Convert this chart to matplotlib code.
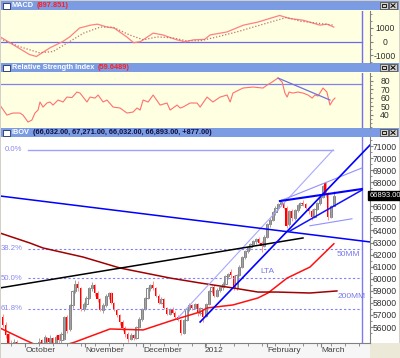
import matplotlib
matplotlib.use("Agg")
import matplotlib.pyplot as plt
from matplotlib.patches import Rectangle
import numpy as np

W, H = 400, 358
plt.rcParams['font.family'] = ['Liberation Sans', 'DejaVu Sans']

# daily IBOV candles, thousands of points (Sep 2011 - Mar 8 2012)
opens = [56.8, 56.2, 55.4, 54.6, 54.1, 54.8, 54.0, 53.0, 52.4, 51.0,
         50.0, 51.2, 52.2, 53.8, 54.9, 54.5, 55.1, 54.8, 55.1, 54.4,
         55.3, 54.9, 55.0, 56.8, 55.8, 57.8, 59.0, 59.6, 59.2, 57.5,
         57.9, 58.4, 59.2, 59.5, 58.8, 58.3, 57.4, 57.8, 58.6, 58.8,
         58.0, 57.4, 57.0, 56.4, 55.9, 55.4, 55.0, 55.3, 55.1, 56.0,
         56.7, 57.5, 58.4, 59.2, 59.5, 59.2, 58.6, 58.0, 58.3, 57.6,
         57.1, 57.5, 57.2, 56.8, 56.6, 55.5, 56.6, 57.5, 57.8, 57.6,
         57.9, 57.2, 57.4, 56.9, 57.9, 59.0, 59.3, 58.6, 59.1, 59.3,
         59.6, 60.2, 60.6, 60.2, 59.2, 60.3, 61.0, 61.8, 62.3, 62.6,
         62.9, 63.1, 63.3, 63.0, 62.7, 63.5, 64.5, 64.9, 65.5, 65.9,
         66.2, 66.3, 65.9, 64.5, 65.6, 65.0, 65.7, 66.1, 66.3, 66.2,
         65.9, 65.6, 65.1, 65.8, 66.3, 66.8, 67.9, 67.1, 65.1, 66.032]
highs = [57.1, 56.4, 55.6, 54.9, 55.0, 54.9, 54.2, 53.3, 52.6, 51.3,
         51.5, 52.5, 53.9, 55.1, 55.0, 55.3, 55.2, 55.3, 55.2, 55.3,
         55.4, 55.6, 56.9, 57.0, 57.9, 59.1, 59.9, 59.8, 59.3, 58.1,
         58.6, 59.3, 59.7, 59.6, 59.0, 58.4, 58.0, 58.7, 58.9, 58.9,
         58.1, 57.5, 57.1, 56.6, 56.1, 55.6, 55.5, 55.4, 56.1, 56.8,
         57.6, 58.5, 59.3, 59.6, 59.8, 59.3, 58.7, 58.5, 58.4, 57.7,
         57.6, 57.7, 57.3, 57.0, 56.7, 56.7, 57.6, 58.0, 57.9, 58.0,
         58.0, 57.7, 57.5, 58.0, 59.1, 59.4, 59.5, 59.2, 59.4, 59.7,
         60.3, 60.5, 60.8, 60.3, 60.4, 61.1, 61.9, 62.4, 62.7, 63.0,
         63.2, 63.4, 63.5, 63.1, 63.6, 64.6, 65.0, 65.6, 66.0, 66.3,
         66.6, 66.4, 66.0, 65.7, 65.8, 65.8, 66.2, 66.4, 66.5, 66.3,
         66.0, 65.8, 65.9, 66.4, 66.9, 67.8, 68.0, 67.2, 66.1, 67.271]
lows = [56.0, 55.1, 54.4, 53.8, 53.9, 53.9, 52.8, 52.0, 50.8, 49.8,
        49.6, 51.0, 52.0, 53.6, 54.3, 54.3, 54.5, 54.6, 54.2, 54.2,
        54.7, 54.7, 54.9, 55.5, 55.7, 57.6, 58.8, 59.0, 57.3, 57.3,
        57.7, 58.3, 59.0, 58.6, 58.1, 57.3, 57.2, 57.7, 58.3, 57.9,
        57.3, 56.8, 56.2, 55.7, 55.2, 54.8, 54.9, 54.9, 55.0, 55.9,
        56.5, 57.4, 58.3, 59.0, 59.1, 58.5, 57.9, 57.9, 57.5, 57.0,
        57.0, 57.1, 56.7, 56.5, 55.3, 55.4, 56.5, 57.3, 57.4, 57.5,
        56.9, 57.0, 56.4, 56.8, 57.8, 58.8, 58.5, 58.5, 58.9, 59.1,
        59.5, 60.0, 60.1, 59.1, 59.1, 60.2, 60.9, 61.6, 62.1, 62.4,
        62.7, 62.9, 62.9, 62.2, 62.6, 63.4, 64.3, 64.8, 65.3, 65.7,
        66.0, 65.8, 64.2, 64.4, 64.8, 64.9, 65.5, 65.9, 66.0, 65.8,
        65.4, 64.9, 65.0, 65.7, 66.1, 66.7, 66.8, 64.9, 65.0, 66.032]
closes = [56.2, 55.3, 54.6, 54.0, 54.8, 54.1, 53.0, 52.3, 51.0, 50.2,
          51.2, 52.3, 53.8, 54.8, 54.6, 55.2, 54.8, 55.1, 54.5, 55.2,
          54.9, 55.4, 56.8, 55.7, 57.8, 59.0, 59.6, 59.2, 57.5, 57.9,
          58.4, 59.2, 59.5, 58.8, 58.3, 57.4, 57.8, 58.6, 58.8, 58.0,
          57.4, 57.0, 56.4, 55.9, 55.4, 55.0, 55.3, 55.1, 56.0, 56.7,
          57.5, 58.4, 59.2, 59.5, 59.2, 58.6, 58.0, 58.3, 57.6, 57.1,
          57.5, 57.2, 56.8, 56.6, 55.5, 56.6, 57.5, 57.8, 57.6, 57.9,
          57.2, 57.6, 56.8, 57.9, 59.0, 59.3, 58.6, 59.1, 59.3, 59.6,
          60.2, 60.4, 60.3, 59.2, 60.3, 61.0, 61.8, 62.3, 62.6, 62.9,
          63.1, 63.3, 63.0, 62.7, 63.5, 64.5, 64.9, 65.5, 65.9, 66.2,
          66.4, 65.9, 64.4, 65.6, 65.0, 65.7, 66.1, 66.3, 66.2, 65.9,
          65.6, 65.1, 65.8, 66.3, 66.8, 67.7, 66.9, 65.1, 66.0, 66.893]

month_pos = [8, 29.5, 50.5, 72.5, 95, 114.5]
month_labels = ["October", "November", "December", "2012", "February", "March"]

# moving averages (day index, points)
ma50_days = [-1.1, 7.9, 13, 18, 24.8, 25.9, 38.5, 50.4, 61.2, 70.9, 73.4, 82.7, 91.7, 95.3, 102.2, 110.4, 119]
ma50_vals = [55920, 54930, 54400, 54250, 54680, 54760, 55840, 55760, 56580, 57250, 57580, 57830, 58410, 58820, 60060, 60970, 62900]
ma200_days = [-1.1, 9.7, 14.4, 28.8, 42.1, 60.1, 70.9, 82.7, 91.7, 98.6, 110.4, 120.1]
ma200_vals = [63790, 62960, 62550, 61800, 60890, 60060, 59650, 59240, 58900, 58900, 58820, 58990]

# retracement levels
fib_labels = ["0.0%", "38.2%", "50.0%", "61.8%"]
fib_vals = [70700, 62470, 60050, 57500]

# hand drawn trend lines: (day, points)
down_days, down_vals = [-1.1, 132.0], [66860, 63050]
lta_days, lta_vals = [70.9, 132.0], [56420, 71080]
chan_days, chan_vals = [62.9, 118.7], [56750, 70670]
black_days, black_vals = [-1.1, 107.9], [59240, 63380]
resist_days, resist_vals = [99.6, 129.1], [66440, 67440]
wedge_days, wedge_vals = [103.2, 129.1], [63960, 67350]
fan_days, fan_vals = [99.6, 129.1], [66440, 69180]
low_days, low_vals = [110.4, 125.5], [64390, 64970]

# MACD
macd_days = [-1, 2.5, 9.5, 12, 17, 21.5, 24, 27.5, 31.5, 34, 37.5, 40, 44.5, 47, 49.5, 54,
             57.5, 62.5, 65.5, 68.5, 72.5, 74.5, 80.5, 86.5, 91.5, 96, 99.5, 103, 108, 114, 116.5, 119]
macd_vals = [330, -90, -930, -1070, -440, 0, 330, 960, 1170, 1240, 1030, 960, 330, -90, 0, 600,
             470, 120, -20, 120, 150, 470, 680, 1170, 1380, 1650, 1860, 1650, 1520, 1170, 1240, 1030]
signal_days = [-1, 6, 13, 18, 24, 29, 35, 39.5, 45.5, 50.5, 55.5, 61, 66, 71, 77, 84, 90, 98.5, 102, 107, 113, 119]
signal_vals = [190, -370, -800, -720, 0, 600, 1030, 1030, 470, 120, 330, 260, 50, 50, 330, 680, 1030, 1520, 1720, 1450, 1310, 1170]

# RSI
rsi_days = [-1.1, 1.4, 3.6, 6.1, 7.2, 9.0, 10.4, 11.5, 12.6, 13.3, 14.4, 15.8, 16.9, 18.0, 19.8, 21.6,
            23.0, 24.8, 26.6, 27.7, 30.2, 31.3, 33.1, 34.2, 36.0, 37.4, 39.6, 42.1, 44.6, 46.8, 48.2, 49.3,
            50.4, 52.2, 54.0, 56.5, 59.0, 60.1, 62.6, 63.7, 64.7, 67.3, 69.8, 70.9, 73.4, 75.5, 78.1, 80.6,
            81.7, 82.7, 86.3, 89.9, 93.5, 95.0, 96.8, 98.9, 100.4, 101.4, 102.2, 102.9, 104.3, 106.1, 107.9,
            109.7, 111.2, 112.2, 113.3, 115.1, 116.5, 117.6, 118.7, 119.4]
rsi_vals = [51.4, 39.6, 42.0, 42.0, 39.6, 31.4, 33.8, 42.0, 45.5, 55.0, 49.0, 53.8, 55.0, 51.4, 57.3, 55.0,
            60.8, 60.2, 66.7, 65.5, 55.0, 60.8, 59.6, 63.2, 55.0, 57.3, 49.0, 47.9, 42.0, 43.2, 47.9, 45.5,
            57.3, 55.0, 63.2, 51.4, 53.8, 45.5, 51.4, 47.9, 49.0, 53.8, 53.8, 49.0, 60.8, 55.0, 60.8, 63.2,
            55.0, 65.5, 71.4, 72.6, 71.4, 74.9, 78.5, 83.2, 78.5, 65.5, 60.8, 66.7, 65.5, 66.7, 65.5,
            63.2, 59.6, 63.2, 62.0, 71.4, 66.7, 51.4, 57.3, 59.6]
rsi_trend_days, rsi_trend_vals = [98.9, 117.6], [83.2, 57.3]
rsi_level = 76
today = 129.1

BAR = '#7b9be3'
CREAM = '#ffffe1'
XL = (-0.72, 132.0)

fig = plt.figure(figsize=(W / 100, H / 100), dpi=100)
fig.patch.set_facecolor('#d4d0c8')
bg = fig.add_axes([0, 0, 1, 1])
bg.set_xlim(0, W)
bg.set_ylim(H, 0)
bg.axis('off')


def px_axes(x0, y0, x1, y1):
    return fig.add_axes([x0 / W, 1 - y1 / H, (x1 - x0) / W, (y1 - y0) / H])


def title_bar(y0, parts):
    bg.add_patch(Rectangle((1, y0), 398, 9, fc=BAR, ec='none'))
    bg.add_patch(Rectangle((3, y0 + 2), 7, 5.5, fc='white', ec='#203060', lw=0.6))
    prev = None
    for txt, col in parts:
        if prev is None:
            prev = bg.text(12, y0 + 4.8, txt, color=col, fontsize=5.3,
                           fontweight='bold', va='center', ha='left')
        else:
            prev = bg.annotate(txt, xy=(1, 0.5), xycoords=prev, xytext=(2, 0),
                               textcoords='offset points', color=col, fontsize=5.3,
                               fontweight='bold', va='center', ha='left')
    for bx in (380, 389):
        bg.add_patch(Rectangle((bx, y0 + 1.2), 8, 7, fc='#d4d0c8', ec='#404040', lw=0.5))
    bg.add_patch(Rectangle((382, y0 + 2.8), 4, 3.6, fc='none', ec='black', lw=0.6))
    bg.plot([391, 395], [y0 + 2.8, y0 + 6.4], color='black', lw=0.7)
    bg.plot([391, 395], [y0 + 6.4, y0 + 2.8], color='black', lw=0.7)


def style(ax, face):
    ax.set_facecolor(face)
    ax.set_xlim(XL)
    for s in ['top', 'left', 'bottom']:
        ax.spines[s].set_visible(False)
    ax.spines['right'].set_color('#808080')
    ax.yaxis.tick_right()
    ax.tick_params(axis='y', which='both', direction='out', colors='#808080',
                   labelcolor='#303030', labelsize=6.2, length=2.5, pad=8.3)
    ax.tick_params(axis='y', which='minor', length=1.5)
    ax.tick_params(axis='x', which='both', bottom=False, labelbottom=False)


# panel backgrounds
bg.add_patch(Rectangle((1, 10), 398, 53, fc=CREAM, ec='none'))
bg.add_patch(Rectangle((1, 72), 398, 56, fc=CREAM, ec='none'))
bg.add_patch(Rectangle((1, 137), 398, 206, fc='white', ec='none'))
bg.add_patch(Rectangle((1, 343), 369, 15, fc='#f6f6f6', ec='none'))
bg.add_patch(Rectangle((370, 343), 30, 15, fc='#ece9d8', ec='none'))

title_bar(1, [("MACD", 'white'), ("(897.851)", '#ff2020')])
title_bar(63, [("Relative Strength Index", 'white'), ("(59.6489)", '#ff2020')])
title_bar(128, [("IBOV", 'white'),
                ("(66,032.00, 67,271.00, 66,032.00, 66,893.00, +877.00)", '#101040')])

# MACD panel
ax1 = px_axes(1, 11, 370, 63)
style(ax1, CREAM)
ax1.set_ylim(-1536, 2180)
ax1.axhline(0, xmax=(today - XL[0]) / (XL[1] - XL[0]), color='#6a6af0', lw=0.9)
ax1.axvline(today, color='#7070f0', lw=1)
ax1.plot(macd_days, macd_vals, color='#ff8080', lw=0.9)
ax1.plot(signal_days, signal_vals, color='#c07070', lw=0.9, ls=(0, (1, 1.5)))
ax1.set_yticks([-1000, 0, 1000], ['-1000', '0', '1000'])
ax1.set_yticks([-1500, -500, 500, 1500, 2000], minor=True)
plt.setp(ax1.get_yticklabels(), ha='center')

# RSI panel
ax2 = px_axes(1, 73, 370, 128)
style(ax2, CREAM)
ax2.set_ylim(24.4, 89.1)
ax2.axhline(rsi_level, xmax=(today - XL[0]) / (XL[1] - XL[0]), color='#8080f0', lw=0.9)
ax2.axvline(today, color='#7070f0', lw=1)
ax2.plot(rsi_days, rsi_vals, color='#ff7070', lw=0.8)
ax2.plot(rsi_trend_days, rsi_trend_vals, color='#7070e0', lw=0.9)
ax2.set_yticks([40, 50, 60, 70, 80], ['40', '50', '60', '70', '80'])
ax2.set_yticks([25, 30, 35, 45, 55, 65, 75, 85], minor=True)
plt.setp(ax2.get_yticklabels(), ha='center')

# price panel
ax = px_axes(1, 137, 370, 343)
style(ax, 'white')
ax.set_ylim(54678, 71746)
ax.spines['bottom'].set_visible(True)
ax.spines['bottom'].set_color('#808080')

for lab, v in zip(fib_labels, fib_vals):
    if lab == "0.0%":
        ax.plot([9, 118.7], [v, v], color='#a0a0ff', lw=1)
    else:
        ax.plot([9, today], [v, v], color='#8080ff', lw=0.8, ls=(0, (2, 2)))
    ax.text(7.0, v, lab, color='#8888ee', fontsize=5.6, ha='right', va='center')
ax.axvline(today, color='#7b7bef', lw=1)

days = np.arange(len(closes))
o = np.array(opens) * 1000
hi = np.array(highs) * 1000
lo = np.array(lows) * 1000
c = np.array(closes) * 1000
up = c >= o
ax.vlines(days[up], lo[up], hi[up], color='#a0a0a0', lw=0.7)
ax.vlines(days[~up], lo[~up], hi[~up], color='#ff9090', lw=0.7)
ax.bar(days[up], (c - o)[up], bottom=o[up], width=0.8, facecolor='white',
       edgecolor='#707070', lw=0.6)
ax.bar(days[~up], (o - c)[~up], bottom=c[~up], width=0.8, color='#ff0000', lw=0)

ax.plot(ma50_days, ma50_vals, color='#ff1010', lw=1.1)
ax.plot(ma200_days, ma200_vals, color='#a00000', lw=1.1)

ax.plot(chan_days, chan_vals, color='#a8a8ff', lw=0.8)
ax.plot(fan_days, fan_vals, color='#9090ff', lw=0.8)
ax.plot(low_days, low_vals, color='#9090ff', lw=0.8)
ax.plot(black_days, black_vals, color='black', lw=1.1)
ax.plot(down_days, down_vals, color='#0000ff', lw=1.1)
ax.plot(lta_days, lta_vals, color='#0000ff', lw=1.2)
ax.plot(resist_days, resist_vals, color='#0000ff', lw=1.5)
ax.plot(wedge_days, wedge_vals, color='#1010ff', lw=1.1)

ax.text(120.1, 61970, "50MM", color='#7878e8', fontsize=6, va='center')
ax.text(120.5, 58490, "200MM", color='#7878e8', fontsize=6, va='center')
ax.text(92.4, 60640, "LTA", color='#7878e8', fontsize=6, va='center')

last = closes[-1] * 1000
price_ticks = np.arange(56000, 71001, 1000)
ax.set_yticks(price_ticks, ['' if abs(v - last) < 400 else str(v) for v in price_ticks])
ax.set_yticks(np.arange(55500, 71600, 1000), minor=True)
plt.setp(ax.get_yticklabels(), ha='center')
ax.annotate(f"{last:.2f}", xy=(1, last),
            xycoords=('axes fraction', 'data'), xytext=(-0.6, 0), textcoords='offset points',
            ha='left', va='center', color='white', fontsize=5.4, annotation_clip=False,
            bbox=dict(boxstyle='square,pad=0.12', fc='black', ec='black'))

ax.tick_params(axis='x', which='both', bottom=True, labelbottom=True, direction='out',
               colors='#808080', labelcolor='#404040', labelsize=6.0, pad=0)
ax.set_xticks(month_pos, month_labels)
ax.tick_params(axis='x', which='major', length=3.2)
ax.set_xticks(np.arange(3, 132, 5), minor=True)
ax.tick_params(axis='x', which='minor', length=2)
plt.setp(ax.get_xticklabels(), ha='left')

fig.savefig('out.png', dpi=100, facecolor=fig.get_facecolor())
